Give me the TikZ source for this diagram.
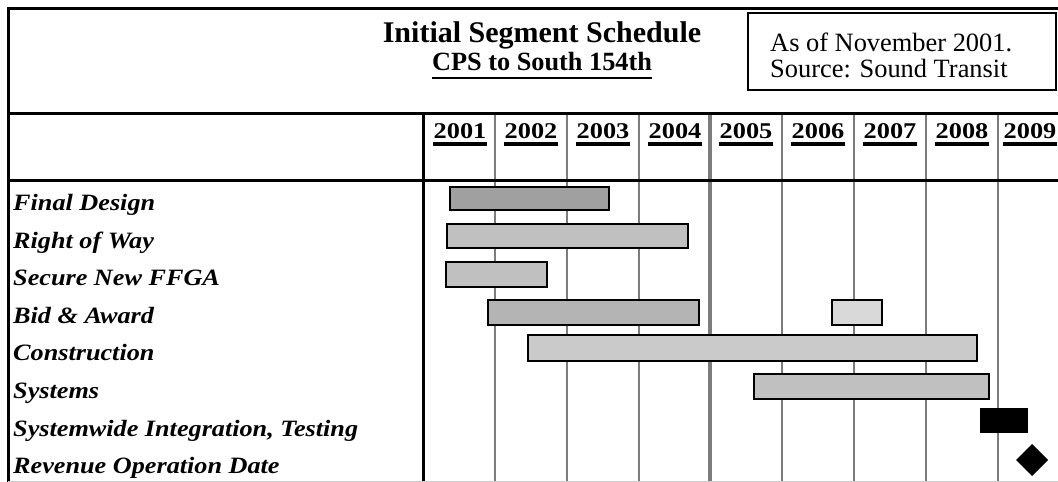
\documentclass[tikz,border=0pt]{standalone}
\usepackage{fontspec}
\setmainfont{Liberation Serif}
\newfontfamily\rowfont[FakeStretch=1.12]{Liberation Serif}
\newfontfamily\yearfont[FakeStretch=1.17]{Liberation Serif}
\usepackage{xcolor}
\usepackage{tikz}
\definecolor{barA}{HTML}{A0A0A0}
\definecolor{barB}{HTML}{C0C0C0}
\definecolor{barC}{HTML}{B4B4B4}
\definecolor{barD}{HTML}{D9D9D9}
\definecolor{barE}{HTML}{CACACA}
\definecolor{gridgray}{HTML}{7C7C7C}

\begin{document}
\begin{tikzpicture}[x=1pt,y=-1pt,
	frame/.style={black, line width=3pt},
	yearline/.style={gridgray, line width=2.6pt},
	bar/.style={draw=black, line width=1.4pt},
	rowlabel/.style={anchor=base west, inner sep=0pt, font=\fontsize{23.4}{23.4}\rowfont\bfseries\itshape},
	yearlabel/.style={anchor=base, inner sep=0pt, font=\fontsize{22.5}{22.5}\yearfont\bfseries},
	ulyear/.style={black, line width=4pt}]
	
	\useasboundingbox (0,0) rectangle (1058,482);
	\clip (0,0) rectangle (1058,482);
	
	% year grid
	\draw[yearline] (495,113) -- (495,482);
	\draw[yearline] (567,113) -- (567,482);
	\draw[yearline] (639,113) -- (639,482);
	\draw[yearline, line width=3.4pt] (710,113) -- (710,482);
	\draw[yearline] (782,113) -- (782,482);
	\draw[yearline] (854,113) -- (854,482);
	\draw[yearline] (926,113) -- (926,482);
	\draw[yearline] (998,113) -- (998,482);
	
	% frame
	\draw[frame] (8,8) -- (1058,8);
	\draw[frame] (8,6.5) -- (8,482);
	\draw[frame] (8,113) -- (1058,113);
	\draw[frame] (8,180) -- (1058,180);
	\draw[frame] (423,113) -- (423,482);
	\draw[gray!40, thin] (8,481.5) -- (1058,481.5);
	
	% title
	\node[anchor=base, inner sep=0pt, font=\fontsize{30}{30}\selectfont\bfseries] (ttl) at (542,42) {Initial Segment Schedule};
	\node[anchor=base, inner sep=0pt, font=\fontsize{26.3}{26.3}\selectfont\bfseries] (sub) at (542,70) {CPS to South 154th};
	\draw[black, line width=2pt] ([yshift=-8pt]sub.base west) -- ([yshift=-8pt]sub.base east);
	
	% source box
	\draw[black, line width=1.5pt] (748,13) rectangle (1056,90);
	\node[anchor=base west, inner sep=0pt, font=\fontsize{26.4}{26.4}\selectfont] (asof) at (770,51) {As of November 2001.};
	\node[anchor=base west, inner sep=0pt, font=\fontsize{26.4}{26.4}\selectfont] (src) at (770,77) {Source: Sound Transit};
	
	% years
	\node[yearlabel] (y2001) at (460,138) {2001};
	\node[yearlabel] (y2002) at (531,138) {2002};
	\node[yearlabel] (y2003) at (603,138) {2003};
	\node[yearlabel] (y2004) at (675,138) {2004};
	\node[yearlabel] (y2005) at (746,138) {2005};
	\node[yearlabel] (y2006) at (818,138) {2006};
	\node[yearlabel] (y2007) at (890,138) {2007};
	\node[yearlabel] (y2008) at (962,138) {2008};
	\node[yearlabel] (y2009) at (1030,138) {2009};
	\draw[ulyear] ([yshift=-6pt]y2001.base west) -- ([yshift=-6pt]y2001.base east);
	\draw[ulyear] ([yshift=-6pt]y2002.base west) -- ([yshift=-6pt]y2002.base east);
	\draw[ulyear] ([yshift=-6pt]y2003.base west) -- ([yshift=-6pt]y2003.base east);
	\draw[ulyear] ([yshift=-6pt]y2004.base west) -- ([yshift=-6pt]y2004.base east);
	\draw[ulyear] ([yshift=-6pt]y2005.base west) -- ([yshift=-6pt]y2005.base east);
	\draw[ulyear] ([yshift=-6pt]y2006.base west) -- ([yshift=-6pt]y2006.base east);
	\draw[ulyear] ([yshift=-6pt]y2007.base west) -- ([yshift=-6pt]y2007.base east);
	\draw[ulyear] ([yshift=-6pt]y2008.base west) -- ([yshift=-6pt]y2008.base east);
	\draw[ulyear] ([yshift=-6pt]y2009.base west) -- ([yshift=-6pt]y2009.base east);
	
	% activities
	\node[rowlabel] (fd) at (13,210) {Final Design};
	\node[rowlabel] (rw) at (13,248) {Right of Way};
	\node[rowlabel] (ffga) at (13,285) {Secure New FFGA};
	\node[rowlabel] (bid) at (13,323) {Bid \& Award};
	\node[rowlabel] (con) at (13,360) {Construction};
	\node[rowlabel] (sys) at (13,398) {Systems};
	\node[rowlabel] (swi) at (13,436) {Systemwide Integration, Testing};
	\node[rowlabel] (rod) at (13,473) {Revenue Operation Date};
	
	% bars
	\filldraw[bar, fill=barA] (450,187) rectangle (609,210);
	\filldraw[bar, fill=barB] (447,224) rectangle (688,248);
	\filldraw[bar, fill=barB] (446,262) rectangle (547,287);
	\filldraw[bar, fill=barC] (488,300) rectangle (699,325);
	\filldraw[bar, fill=barD] (832,300) rectangle (882,325);
	\filldraw[bar, fill=barE] (528,335) rectangle (977,361);
	\filldraw[bar, fill=barB] (754,374) rectangle (989,399);
	\fill[black] (980,408) rectangle (1028,433);
	\fill[black] (1032,444) -- (1048,460) -- (1032,476) -- (1016,460) -- cycle;
\end{tikzpicture}
\end{document}
